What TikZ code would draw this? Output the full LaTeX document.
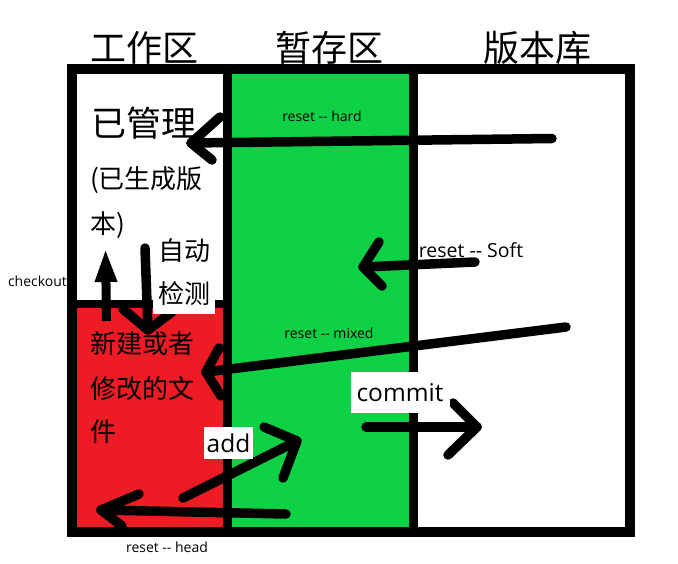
\documentclass[tikz,border=0pt]{standalone}
\usepackage{fontspec}
\setmainfont{Open Sans}
\newfontfamily\cjk{Noto Sans CJK SC}
\usetikzlibrary{arrows.meta}
\definecolor{pred}{HTML}{ED1C24}
\definecolor{pgreen}{HTML}{0ED145}
\begin{document}
\begin{tikzpicture}[x=1pt,y=-1pt,
  title/.style={font=\cjk\fontsize{36}{40}\selectfont, inner sep=0},
  bigtxt/.style={font=\cjk\fontsize{35}{40}\selectfont, inner sep=0, anchor=west},
  cjktxt/.style={font=\cjk\fontsize{26}{30}\selectfont, inner sep=0, anchor=west},
  small/.style={font=\fontsize{14}{16}\selectfont, inner sep=0},
  mid/.style={font=\fontsize{19.5}{22}\selectfont, inner sep=0},
  boxlabel/.style={fill=white, inner sep=0, font=\fontsize{24.5}{28}\selectfont},
  hand/.style={line width=9.5pt, line cap=round, line join=round},
  frame/.style={line width=10pt},
  divider/.style={line width=9pt}]
\fill[white] (0,0) rectangle (678,563);
\useasboundingbox (0,0) rectangle (678,563);
% regions
\fill[pred] (77,308) rectangle (224,527);
\fill[pgreen] (231,73) rectangle (410,527);
\draw[frame] (72,69) rectangle (630,531.5);
\draw[divider] (227.5,69) -- (227.5,531.5);
\draw[divider] (413.5,69) -- (413.5,534);
\draw[line width=8pt] (72,304) -- (227.5,304);
% titles
\node[title] (t1) at (144,47.5) {工作区};
\node[title] (t2) at (329,47.5) {暂存区};
\node[title] (t3) at (537,47.5) {版本库};
% texts
\node[bigtxt] (m1) at (91,123.5) {已管理};
\node[cjktxt] (m2) at (90,180) {(已生成版};
\node[cjktxt] (m3) at (90,225) {本)};
\node[cjktxt] (a1) at (158,251) {自动};
\node[cjktxt] (n1) at (90,344) {新建或者};
\node[cjktxt] (n2) at (90,389) {修改的文};
\node[cjktxt] (n3) at (90,432) {件};
\node[small] (lhard) at (322,116) {reset -{}- hard};
\node[mid] (lsoft) at (471,250) {reset -{}- Soft};
\node[small] (lmixed) at (329,333.5) {reset -{}- mixed};
\node[small] (lhead) at (167,547.5) {reset -{}- head};
\node[small] (lco) at (37.5,281) {checkout};
% coordinates
\coordinate (hardT) at (552,138.5); \coordinate (hardH) at (191,143);
\coordinate (hardA) at (220,117); \coordinate (hardB) at (212,160);
\coordinate (softT) at (475,262); \coordinate (softH) at (363,267);
\coordinate (softA) at (379,242); \coordinate (softB) at (382,286);
\coordinate (mixT) at (566,327); \coordinate (mixH) at (206,372);
\coordinate (mixA) at (219,348); \coordinate (mixB) at (221,396);
\coordinate (comT) at (366,427); \coordinate (comH) at (477,427);
\coordinate (comA) at (453,403); \coordinate (comB) at (448,455);
\coordinate (addT) at (183,498); \coordinate (addH) at (297,441);
\coordinate (addA) at (264,427); \coordinate (addB) at (283,478);
\coordinate (headT) at (286,514); \coordinate (headH) at (101,510);
\coordinate (headA) at (139,494); \coordinate (headB) at (122,526);
\coordinate (autoT) at (145,248); \coordinate (autoH) at (148,330);
\coordinate (autoA) at (123,309); \coordinate (autoB) at (172,312);
\coordinate (coT) at (106.5,321); \coordinate (coH) at (105.5,248);
% arrows
\draw[hand] (hardT) -- (hardH); \draw[hand] (hardA) -- (hardH) -- (hardB);
\draw[hand] (softT) -- (softH); \draw[hand] (softA) -- (softH) -- (softB);
\draw[hand] (mixT) -- (mixH); \draw[hand] (mixA) -- (mixH) -- (mixB);
\draw[hand] (comT) -- (comH); \draw[hand] (comA) -- (comH) -- (comB);
\draw[hand] (addT) -- (addH); \draw[hand] (addA) -- (addH) -- (addB);
\draw[hand] (headT) -- (headH); \draw[hand] (headA) -- (headH) -- (headB);
\draw[hand] (autoT) -- (autoH); \draw[hand] (autoA) -- (autoH) -- (autoB);
\draw[line width=9pt, -{Triangle[width=20pt,length=34pt]}] (coT) -- (coH);
% boxed labels
\node[fill=white, inner sep=0, minimum width=62pt, minimum height=40pt, font=\cjk\fontsize{26}{30}\selectfont] (a2) at (184,294) {检测};
\node[boxlabel, minimum width=99pt, minimum height=41pt] (lcommit) at (400,392.5) {commit};
\node[boxlabel, minimum width=49pt, minimum height=32pt] (ladd) at (228.5,443) {add};
\end{tikzpicture}
\end{document}
